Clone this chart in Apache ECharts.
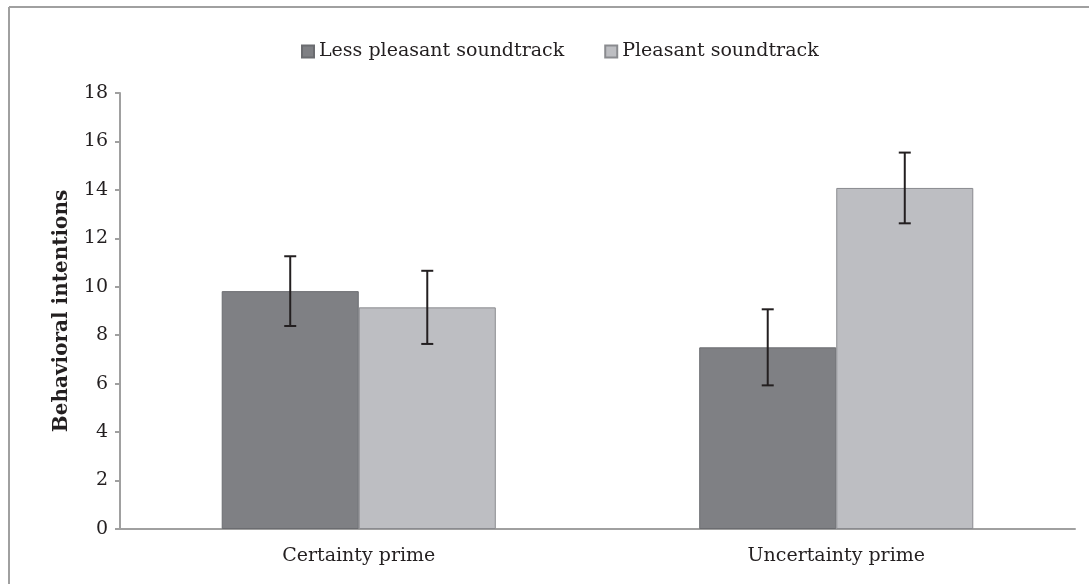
<!DOCTYPE html>
<html>
<head>
<meta charset="utf-8">
<script src="https://cdn.jsdelivr.net/npm/echarts@6/dist/echarts.min.js"></script>
<style>
  html, body { margin: 0; padding: 0; background: #fff; }
  #main { width: 1089px; height: 584px; }
</style>
</head>
<body>
<div id="main"></div>
<script>
var categories = ['Certainty prime', 'Uncertainty prime'];
var seriesNames = ['Less pleasant soundtrack', 'Pleasant soundtrack'];
var lessPleasant = [9.82, 7.50];
var pleasant = [9.15, 14.08];
var lessPleasantErr = [1.44, 1.57];
var pleasantErr = [1.51, 1.46];
var yTicks = [0, 2, 4, 6, 8, 10, 12, 14, 16, 18];

var BAR_FRAC = 0.287;
var font = 'DejaVu Serif';

var myChart = echarts.init(document.getElementById('main'));

// error bar data: [category index, low, high, offset side]
var errData = function(values, errs, side) {
    var res = [];
    for (var i = 0; i < values.length; i++) {
        res.push([i, values[i] - errs[i], values[i] + errs[i], side]);
    }
    return res;
};

var renderErr = function(params, api) {
    var band = api.size([1, 0])[0];
    var off = api.value(3) * band * BAR_FRAC / 2;
    var lo = api.coord([api.value(0), api.value(1)]);
    var hi = api.coord([api.value(0), api.value(2)]);
    var x = lo[0] + off;
    var cap = 6;
    var st = { stroke: '#231f20', lineWidth: 2 };
    return {
        type: 'group',
        children: [
            { type: 'line', shape: { x1: x, y1: lo[1], x2: x, y2: hi[1] }, style: st },
            { type: 'line', shape: { x1: x - cap, y1: lo[1], x2: x + cap, y2: lo[1] }, style: st },
            { type: 'line', shape: { x1: x - cap, y1: hi[1], x2: x + cap, y2: hi[1] }, style: st }
        ]
    };
};

option = {
    backgroundColor: '#fff',
    animation: false,
    textStyle: { fontFamily: font },
    graphic: [
        { type: 'line', shape: { x1: 9, y1: 7, x2: 1089, y2: 7 }, style: { stroke: '#a0a0a0', lineWidth: 2 } },
        { type: 'line', shape: { x1: 9, y1: 7, x2: 9, y2: 584 }, style: { stroke: '#a0a0a0', lineWidth: 2 } }
    ],
    legend: {
        data: seriesNames,
        left: 296,
        top: 37,
        icon: 'rect',
        itemWidth: 12,
        itemHeight: 12,
        itemGap: 40,
        textStyle: { fontFamily: font, fontSize: 19, color: '#231f20' }
    },
    grid: { left: 120, right: 14, top: 93, bottom: 55 },
    xAxis: {
        type: 'category',
        data: categories,
        axisLine: { lineStyle: { color: '#a0a0a0', width: 2 } },
        axisTick: { length: 6, lineStyle: { color: '#a0a0a0', width: 2 } },
        axisLabel: { fontFamily: font, fontSize: 19, color: '#231f20', margin: 18 }
    },
    yAxis: {
        type: 'value',
        min: 0,
        max: 18,
        interval: 2,
        name: 'Behavioral intentions',
        nameLocation: 'middle',
        nameGap: 48,
        nameTextStyle: { fontFamily: font, fontSize: 20, fontWeight: 'bold', color: '#231f20' },
        axisLine: { show: true, lineStyle: { color: '#a0a0a0', width: 2 } },
        axisTick: { show: true, length: 5, lineStyle: { color: '#a0a0a0', width: 2 } },
        splitLine: { show: false },
        axisLabel: {
            fontFamily: font, fontSize: 19, color: '#231f20', margin: 12,
            formatter: function(v) { return yTicks.indexOf(v) >= 0 ? String(v) : ''; }
        }
    },
    series: [{
        name: seriesNames[0],
        type: 'bar',
        data: lessPleasant,
        barWidth: (BAR_FRAC * 100) + '%',
        barGap: '0%',
        itemStyle: { color: '#7f8084', borderColor: '#6b6c70', borderWidth: 1 }
    }, {
        name: seriesNames[1],
        type: 'bar',
        data: pleasant,
        barWidth: (BAR_FRAC * 100) + '%',
        barGap: '0%',
        itemStyle: { color: '#bdbec2', borderColor: '#8a8b8f', borderWidth: 1 }
    }, {
        type: 'custom',
        renderItem: renderErr,
        data: errData(lessPleasant, lessPleasantErr, -1),
        z: 10,
        silent: true
    }, {
        type: 'custom',
        renderItem: renderErr,
        data: errData(pleasant, pleasantErr, 1),
        z: 10,
        silent: true
    }]
};

myChart.setOption(option);
</script>
</body>
</html>
